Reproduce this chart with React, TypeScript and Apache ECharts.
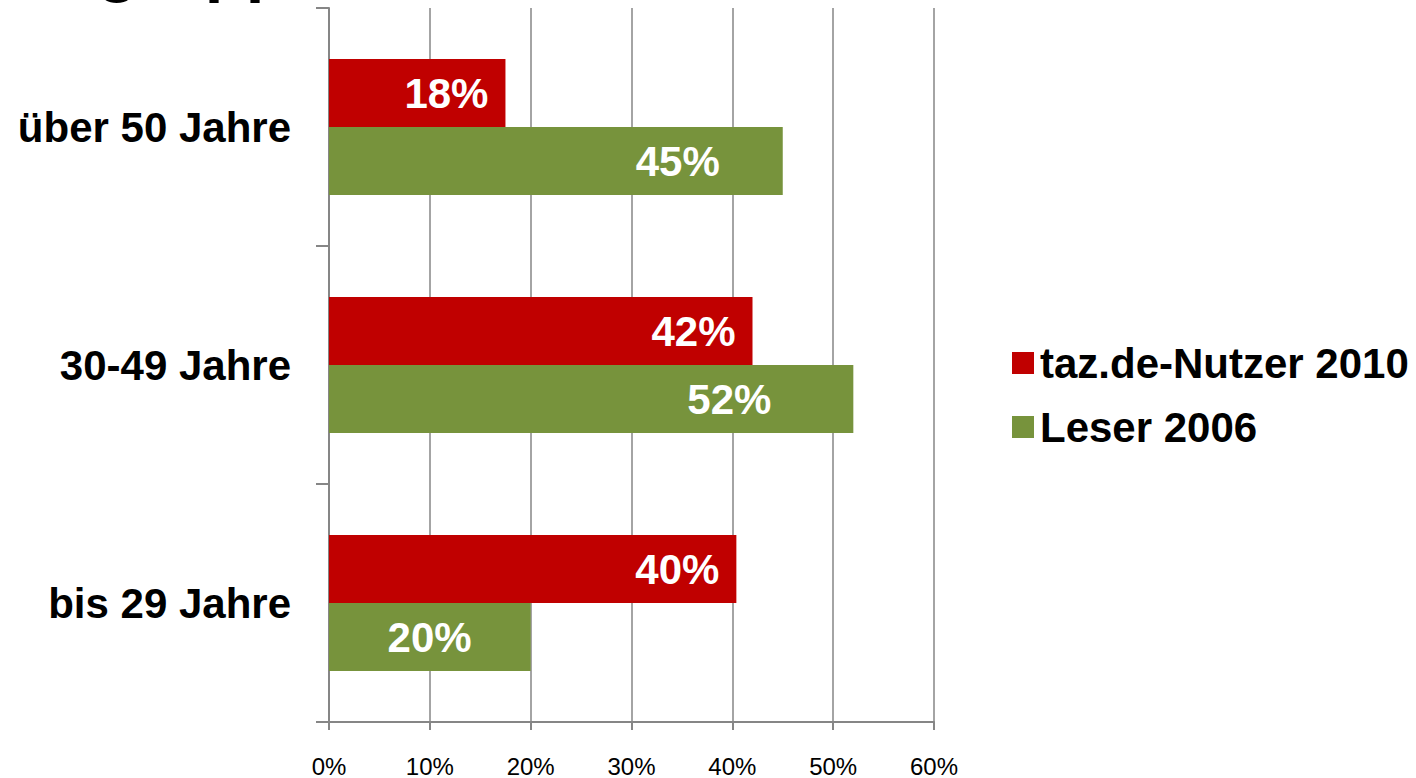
import React, { useEffect, useRef } from "react";
import * as echarts from "echarts";

const categories = ["bis 29 Jahre", "30-49 Jahre", "über 50 Jahre"];
const nutzer2010 = [40.4, 42, 17.5];
const leser2006 = [20, 52, 45];
const seriesNames = ["taz.de-Nutzer 2010", "Leser 2006"];
const titleText = "Altersgruppen";

const FONT = "'Liberation Sans', Arial, sans-serif";
const leserLabelDistance = [59, 82, 63];

export default function App() {
  const ref = useRef<HTMLDivElement>(null);
  useEffect(() => {
    if (!ref.current) return;
    const chart = echarts.init(ref.current, undefined, { renderer: "svg" });
    const labelBase = {
      show: true,
      position: "insideRight",
      distance: 17,
      color: "#ffffff",
      fontFamily: FONT,
      fontWeight: "bold",
      fontSize: 42,
      formatter: (p: any) => Math.round(p.value) + "%",
    };
    chart.setOption({
      animation: false,
      backgroundColor: "#ffffff",
      textStyle: { fontFamily: FONT },
      graphic: [
        {
          type: "text",
          left: -93,
          top: -68,
          style: {
            text: titleText,
            fontFamily: FONT,
            fontWeight: "bold",
            fontSize: 67,
            fill: "#000000",
          },
        },
      ],
      legend: {
        orient: "vertical",
        left: 1007,
        top: 337,
        itemWidth: 22,
        itemHeight: 22,
        itemGap: 22,
        icon: "rect",
        data: seriesNames,
        textStyle: {
          fontFamily: FONT,
          fontWeight: "bold",
          fontSize: 42,
          color: "#000000",
          padding: [0, 0, 0, 1],
        },
      },
      grid: { left: 329, right: 482, top: 8, bottom: 54, containLabel: false },
      xAxis: {
        type: "value",
        min: 0,
        max: 60,
        interval: 10,
        axisLine: { show: true, lineStyle: { color: "#868686", width: 2 } },
        axisTick: { show: true, length: 8, lineStyle: { color: "#868686", width: 2 } },
        splitLine: { show: true, lineStyle: { color: "#868686", width: 1.5 } },
        axisLabel: {
          formatter: "{value}%",
          fontFamily: FONT,
          fontSize: 24,
          color: "#000000",
          margin: 32,
        },
      },
      yAxis: {
        type: "category",
        data: categories,
        axisLine: { show: true, lineStyle: { color: "#868686", width: 2 } },
        axisTick: { show: true, length: 13, alignWithLabel: false, lineStyle: { color: "#868686", width: 2 } },
        axisLabel: {
          fontFamily: FONT,
          fontWeight: "bold",
          fontSize: 42,
          color: "#000000",
          margin: 38,
          padding: [5, 0, 0, 0],
        },
      },
      series: [
        {
          name: seriesNames[0],
          type: "bar",
          data: nutzer2010,
          barWidth: 68,
          barGap: "0%",
          itemStyle: { color: "#C00000" },
          label: labelBase,
        },
        {
          name: seriesNames[1],
          type: "bar",
          data: leser2006.map((v, i) => ({
            value: v,
            label: { distance: leserLabelDistance[i] },
          })),
          barWidth: 68,
          barGap: "0%",
          itemStyle: { color: "#77933C" },
          label: labelBase,
        },
      ],
    });
    return () => chart.dispose();
  }, []);
  return <div ref={ref} style={{ width: 1416, height: 778, position: "absolute", left: 0, top: 0 }} />;
}
